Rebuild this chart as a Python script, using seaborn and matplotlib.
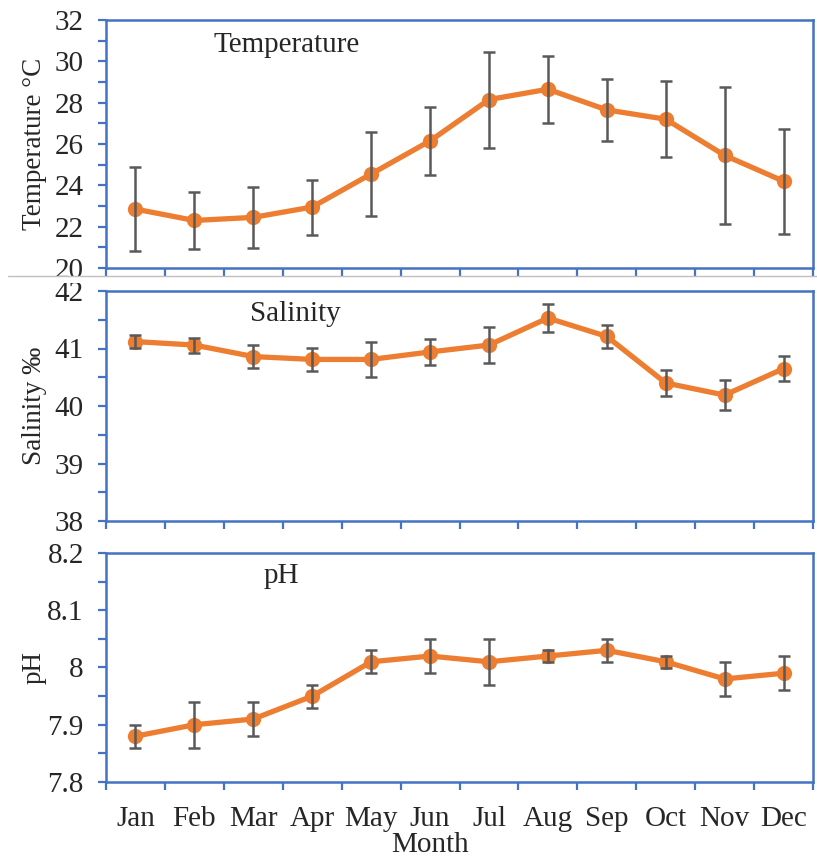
import numpy as np
import pandas as pd
import matplotlib.pyplot as plt
from matplotlib.ticker import MultipleLocator, FormatStrFormatter
from matplotlib.lines import Line2D
from matplotlib.patches import Rectangle
import seaborn as sns

months = ['Jan', 'Feb', 'Mar', 'Apr', 'May', 'Jun', 'Jul', 'Aug', 'Sep', 'Oct', 'Nov', 'Dec']

temp_mean = [22.85, 22.3, 22.45, 22.95, 24.55, 26.15, 28.15, 28.65, 27.65, 27.2, 25.45, 24.2]
temp_err = [2.03, 1.38, 1.48, 1.33, 2.05, 1.65, 2.32, 1.62, 1.5, 1.83, 3.3, 2.55]

sal_mean = [41.12, 41.06, 40.86, 40.81, 40.81, 40.94, 41.06, 41.53, 41.21, 40.4, 40.19, 40.65]
sal_err = [0.11, 0.13, 0.2, 0.2, 0.3, 0.23, 0.31, 0.24, 0.2, 0.22, 0.26, 0.22]

ph_mean = [7.88, 7.90, 7.91, 7.95, 8.01, 8.02, 8.01, 8.02, 8.03, 8.01, 7.98, 7.99]
ph_err = [0.02, 0.04, 0.03, 0.02, 0.02, 0.03, 0.04, 0.01, 0.02, 0.01, 0.03, 0.03]

sns.set_theme(style='white')
plt.rcParams['font.family'] = ['Liberation Serif', 'DejaVu Serif']

orange = '#ED7D31'
blue = '#4472C4'
grey = '#595959'

fig = plt.figure(figsize=(8.17, 8.56), dpi=100)
W, H = 817, 856


def rect(top, bottom, left=106, right=813):
    return [left / W, 1 - bottom / H, (right - left) / W, (bottom - top) / H]


panels = [
    # (rect, mean, err, ylim, major, minor, ylabel, title, title_x)
    (rect(20, 268), temp_mean, temp_err, (20, 32), 2, 1, 'Temperature °C', 'Temperature', 0.255),
    (rect(291, 521), sal_mean, sal_err, (38, 42), 1, 0.5, 'Salinity ‰', 'Salinity', 0.268),
    (rect(553, 782), ph_mean, ph_err, (7.8, 8.2), 0.1, 0.05, 'pH', 'pH', 0.248),
]

for i, (r, mean, err, ylim, major, minor, ylabel, title, tx) in enumerate(panels):
    ax = fig.add_axes(r)
    df = pd.DataFrame({'month': months, 'x': np.arange(len(months)), 'value': mean, 'err': err})
    sns.lineplot(data=df, x='x', y='value', ax=ax, color=orange, lw=3.8,
                 marker='o', markersize=11, markeredgewidth=0, zorder=2)
    ax.errorbar(df['x'], df['value'], yerr=df['err'], fmt='none', ecolor=grey,
                elinewidth=1.8, capsize=4.5, capthick=1.8, zorder=3)

    ax.set_xlim(-0.5, 11.5)
    ax.set_xticks(np.arange(-0.5, 12, 1))
    ax.set_xticklabels([])
    ax.set_xticks(np.arange(12), minor=True)
    if i == 2:
        ax.set_xticklabels(months, minor=True)
    ax.tick_params(axis='x', which='major', bottom=True, length=6, width=1.6,
                   color=blue, direction='out')
    ax.tick_params(axis='x', which='minor', bottom=True, length=0, labelsize=21, pad=17)

    ax.set_ylim(*ylim)
    ax.yaxis.set_major_locator(MultipleLocator(major))
    ax.yaxis.set_minor_locator(MultipleLocator(minor))
    ax.yaxis.set_major_formatter(FormatStrFormatter('%g'))
    ax.tick_params(axis='y', which='both', left=True, length=6, width=1.6,
                   color=blue, direction='out', labelsize=21, pad=10)

    for s in ax.spines.values():
        s.set_color(blue)
        s.set_linewidth(1.8)

    ax.set_xlabel('')
    ax.set_ylabel(ylabel, fontsize=19.5)
    ax.yaxis.set_label_coords(-0.084, 0.5)
    ax.text(tx, 0.9, title, transform=ax.transAxes, ha='center', va='center', fontsize=21)

# separation between the first two pasted chart images
fig.patches.append(Rectangle((0, 1 - 283 / H), 1, 7 / H, transform=fig.transFigure,
                             facecolor='white', edgecolor='none', zorder=5))
fig.add_artist(Line2D([8 / W, 1], [1 - 276 / H, 1 - 276 / H], color='#BFBFBF', lw=1, zorder=6))

fig.text(430 / W, 1 - 832 / H, 'Month', ha='center', va='top', fontsize=21)

fig.savefig('out.png', dpi=100)
